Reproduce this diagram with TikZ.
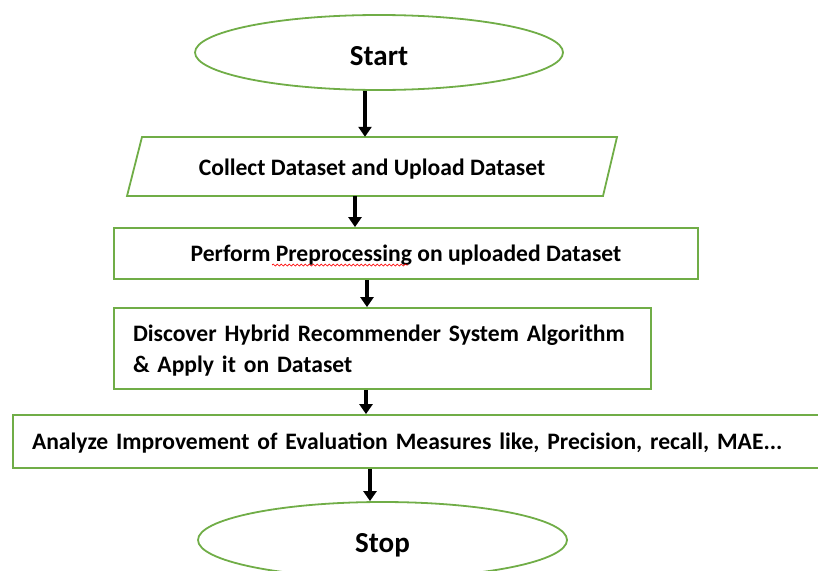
\documentclass[tikz,border=0pt]{standalone}
\usepackage{fontspec}
\setmainfont{Carlito}
\usetikzlibrary{shapes.geometric,arrows.meta,decorations.pathmorphing}
\definecolor{ogreen}{RGB}{112,173,71}
\newcommand\lowerby[2]{\raisebox{-#1}[\height][\depth]{#2}}
\begin{document}
\begin{tikzpicture}[x=1pt,y=-1pt,
  txt/.style={font=\fontsize{23.6}{31}\selectfont\bfseries},
  term/.style={ellipse,draw=ogreen,line width=1.8pt,inner sep=0pt,font=\fontsize{29}{32}\selectfont\bfseries},
  box/.style={rectangle,draw=ogreen,line width=1.8pt,inner sep=0pt,txt},
  arr/.style={line width=4pt,-{Triangle[width=13pt,length=10pt]}}]
\useasboundingbox (0,0) rectangle (818,570);
\node[term,minimum width=368,minimum height=75] (start) at (379,52.5) {\lowerby{4pt}{Start}};
\node[txt,minimum width=476,minimum height=59,inner sep=0pt] (collect) at (372,166.5) {\lowerby{3pt}{Collect Dataset and Upload Dataset}};
\draw[ogreen,line width=1.8pt] (127,196) -- (142,137) -- (617,137) -- (603,196) -- cycle;
\node[box,minimum width=584,minimum height=51] (prep) at (406,253.5) {\lowerby{1.5pt}{Perform Preprocessing on uploaded Dataset}};
\draw[red,line width=0.7pt,decorate,decoration={snake,amplitude=1pt,segment length=4pt}] (272,265) -- (408,265);
\node[box,minimum width=537,minimum height=81,text width=499,align=left,inner xsep=19pt] (disc) at (382.5,348.5) {\lowerby{2pt}{\begin{tabular}{@{}l@{}}Discover Hybrid Recommender System Algorithm\\ \& Apply it on Dataset\end{tabular}}};
\node[box,minimum width=809,minimum height=53,text width=771,align=left,inner xsep=19pt] (anal) at (417.5,441.5) {\lowerby{2pt}{\mbox{Analyze Improvement of Evaluation Measures like, Precision, recall, MAE...}}};
\node[term,minimum width=369,minimum height=76] (stop) at (382.5,540) {\lowerby{5pt}{Stop}};
\draw[arr] (start.south -| 365,0) -- (collect.north -| 365,0);
\draw[arr] (collect.south -| 355,0) -- (prep.north -| 355,0);
\draw[arr] (prep.south -| 367,0) -- (disc.north -| 367,0);
\draw[arr] (disc.south -| 366,0) -- (anal.north -| 366,0);
\draw[arr] (anal.south -| 370,0) -- (stop.north -| 370,0);
\end{tikzpicture}
\end{document}
